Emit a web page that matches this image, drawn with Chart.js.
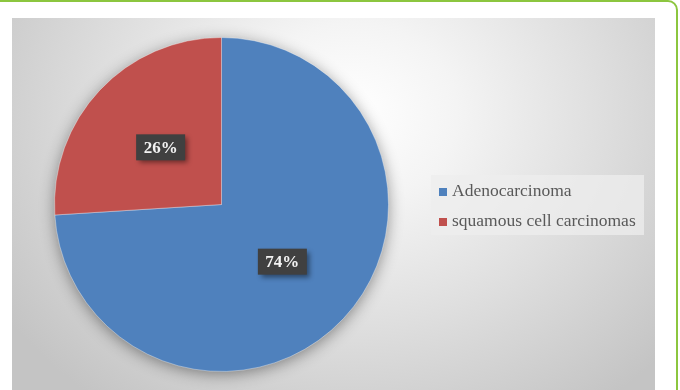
<!DOCTYPE html>
<html>
<head>
<meta charset="utf-8">
<script src="https://cdn.jsdelivr.net/npm/chart.js"></script>
<style>
  html, body { margin: 0; padding: 0; background: #fff; overflow: hidden; }
  body { width: 680px; height: 390px; position: relative; }
  #frame {
    position: absolute; left: -12px; top: 0; width: 690px; height: 410px;
    border: 2px solid #8cc63f; border-radius: 10px; box-sizing: border-box;
  }
  #plot {
    position: absolute; left: 12px; top: 18px; width: 643px; height: 372px;
    background: radial-gradient(ellipse 420px 360px at 340px 95px, #ffffff 0%, #f4f4f4 25%, #dedede 60%, #c4c4c4 100%);
  }
  #legend {
    position: absolute; left: 431px; top: 175px; width: 213px; height: 60px;
    background: rgba(238,238,238,0.75);
    font-family: "Liberation Serif", "Times New Roman", serif; font-size: 17.5px; color: #595959;
  }
  .item { position: absolute; left: 8px; white-space: nowrap; line-height: 20px; }
  .sw { display: inline-block; width: 8px; height: 8px; margin-right: 5px; }
</style>
</head>
<body>
<div id="frame"></div>
<div id="plot"><canvas id="canvas"></canvas></div>
<div id="legend"></div>

<script>
var labels = ["Adenocarcinoma", "squamous cell carcinomas"];
var values = [74, 26];
var colors = ["#4f81bd", "#c0504d"];

// legend
var legend = document.getElementById("legend");
labels.forEach(function (l, i) {
  var d = document.createElement("div");
  d.className = "item";
  d.style.top = (5 + i * 30) + "px";
  d.innerHTML = '<span class="sw" style="background:' + colors[i] + '"></span>' + l;
  legend.appendChild(d);
});

// soft shadow under the whole pie
var pieShadow = {
  id: "pieShadow",
  beforeDatasetsDraw: function (chart) {
    var arc = chart.getDatasetMeta(0).data[0];
    if (!arc) return;
    var ctx = chart.ctx;
    ctx.save();
    ctx.shadowColor = "rgba(0,0,0,0.45)";
    ctx.shadowBlur = 16;
    ctx.shadowOffsetX = 0;
    ctx.shadowOffsetY = 3;
    ctx.fillStyle = "#4f81bd";
    ctx.beginPath();
    ctx.arc(arc.x, arc.y, arc.outerRadius - 1, 0, Math.PI * 2);
    ctx.fill();
    ctx.restore();
  }
};

// percentage labels in dark boxes
var boxLabels = {
  id: "boxLabels",
  afterDatasetsDraw: function (chart) {
    var ctx = chart.ctx;
    var total = values.reduce(function (a, b) { return a + b; }, 0);
    chart.getDatasetMeta(0).data.forEach(function (arc, i) {
      var p = arc.tooltipPosition();
      var txt = Math.round(values[i] / total * 100) + "%";
      var w = 49, h = 26;
      ctx.save();
      ctx.shadowColor = "rgba(0,0,0,0.45)";
      ctx.shadowBlur = 5;
      ctx.shadowOffsetX = 3;
      ctx.shadowOffsetY = 3;
      ctx.fillStyle = "#404040";
      ctx.fillRect(p.x - w / 2, p.y - h / 2, w, h);
      ctx.restore();
      ctx.save();
      ctx.font = "bold 17px 'Liberation Serif', 'Times New Roman', serif";
      ctx.fillStyle = "#f2f2f2";
      ctx.textAlign = "center";
      ctx.textBaseline = "middle";
      ctx.fillText(txt, p.x, p.y + 1);
      ctx.restore();
    });
  }
};

new Chart(document.getElementById("canvas"), {
  type: "pie",
  data: {
    labels: labels,
    datasets: [{
      data: values,
      backgroundColor: colors,
      borderColor: "rgba(255,255,255,0.35)",
      borderWidth: 1
    }]
  },
  options: {
    responsive: true,
    maintainAspectRatio: false,
    animation: false,
    layout: { padding: { top: 19, bottom: 18, left: 42, right: 266 } },
    plugins: {
      legend: { display: false },
      tooltip: { enabled: false }
    }
  },
  plugins: [pieShadow, boxLabels]
});
</script>
</body>
</html>
